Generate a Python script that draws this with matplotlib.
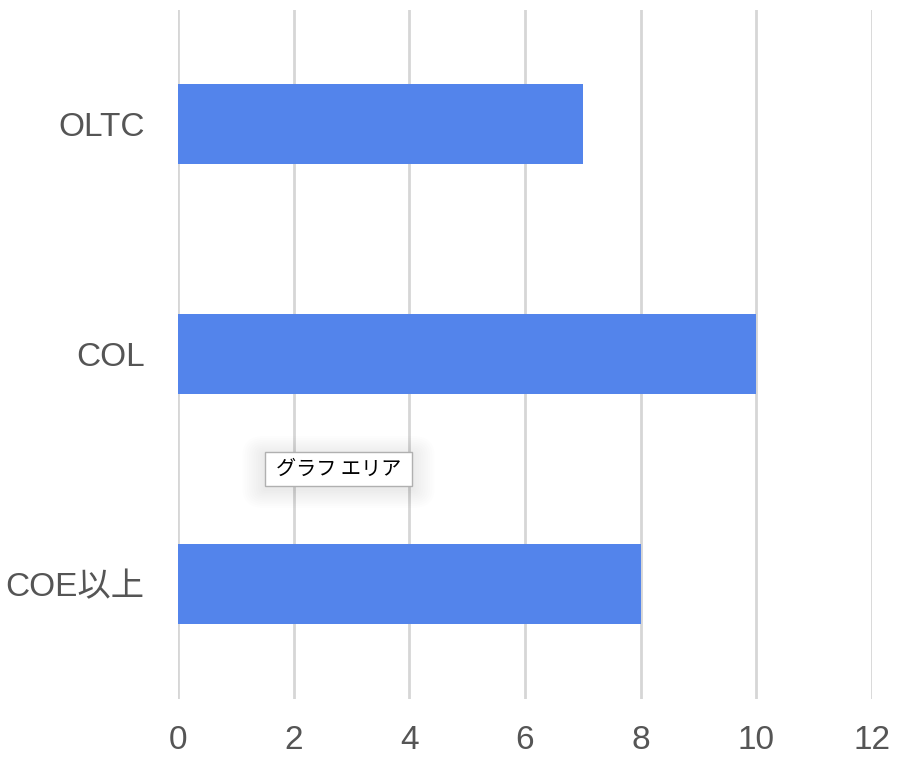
import numpy as np
import matplotlib.pyplot as plt
from matplotlib.patches import FancyBboxPatch

categories = ['OLTC', 'COL', 'COE以上']
values = [7, 10, 8]
xticks = [0, 2, 4, 6, 8, 10, 12]

W, H = 902, 762
fig = plt.figure(figsize=(W / 100, H / 100), dpi=100)
ax = fig.add_axes([178 / W, 1 - 699 / H, (872 - 178) / W, (699 - 9.5) / H])

fams = ['Liberation Sans', 'Noto Sans CJK JP', 'DejaVu Sans']
ypos = np.arange(len(categories))
ax.barh(ypos, values, height=0.348, color='#5384eb', zorder=3)
ax.set_ylim(len(categories) - 0.5, -0.5)
ax.set_xlim(0, 12)
ax.set_xticks(xticks)
ax.set_xticklabels([str(t) for t in xticks], family=fams, fontsize=24, color='#555555')
ax.set_yticks(ypos)
ax.set_yticklabels(categories, family=fams, fontsize=24, color='#555555')
ax.tick_params(axis='both', length=0)
ax.tick_params(axis='x', pad=19)
ax.tick_params(axis='y', pad=24)
ax.grid(axis='x', color='#d6d6d6', linewidth=2, zorder=0)
for s in ax.spines.values():
    s.set_visible(False)

# tooltip "グラフ エリア"
x0, y0, x1, y1 = 265, 452, 412, 486
for i in range(10, 0, -1):
    fig.patches.append(FancyBboxPatch((x0 / W, 1 - (y1 + 3) / H), (x1 - x0) / W, (y1 - y0) / H,
                                      boxstyle='round,pad=%f' % (i * 0.0025), transform=fig.transFigure,
                                      facecolor='black', edgecolor='none', alpha=0.008, zorder=8))
fig.patches.append(plt.Rectangle((x0 / W, 1 - y1 / H), (x1 - x0) / W, (y1 - y0) / H,
                                 transform=fig.transFigure, facecolor='white',
                                 edgecolor='#b0b0b0', linewidth=1, zorder=9))
fig.text((x0 + x1) / 2 / W, 1 - (y0 + y1) / 2 / H, 'グラフ エリア', ha='center', va='center',
         family=['Noto Sans CJK JP', 'DejaVu Sans'], fontsize=14.5, color='black', zorder=10)

fig.savefig('out.png', dpi=100)
